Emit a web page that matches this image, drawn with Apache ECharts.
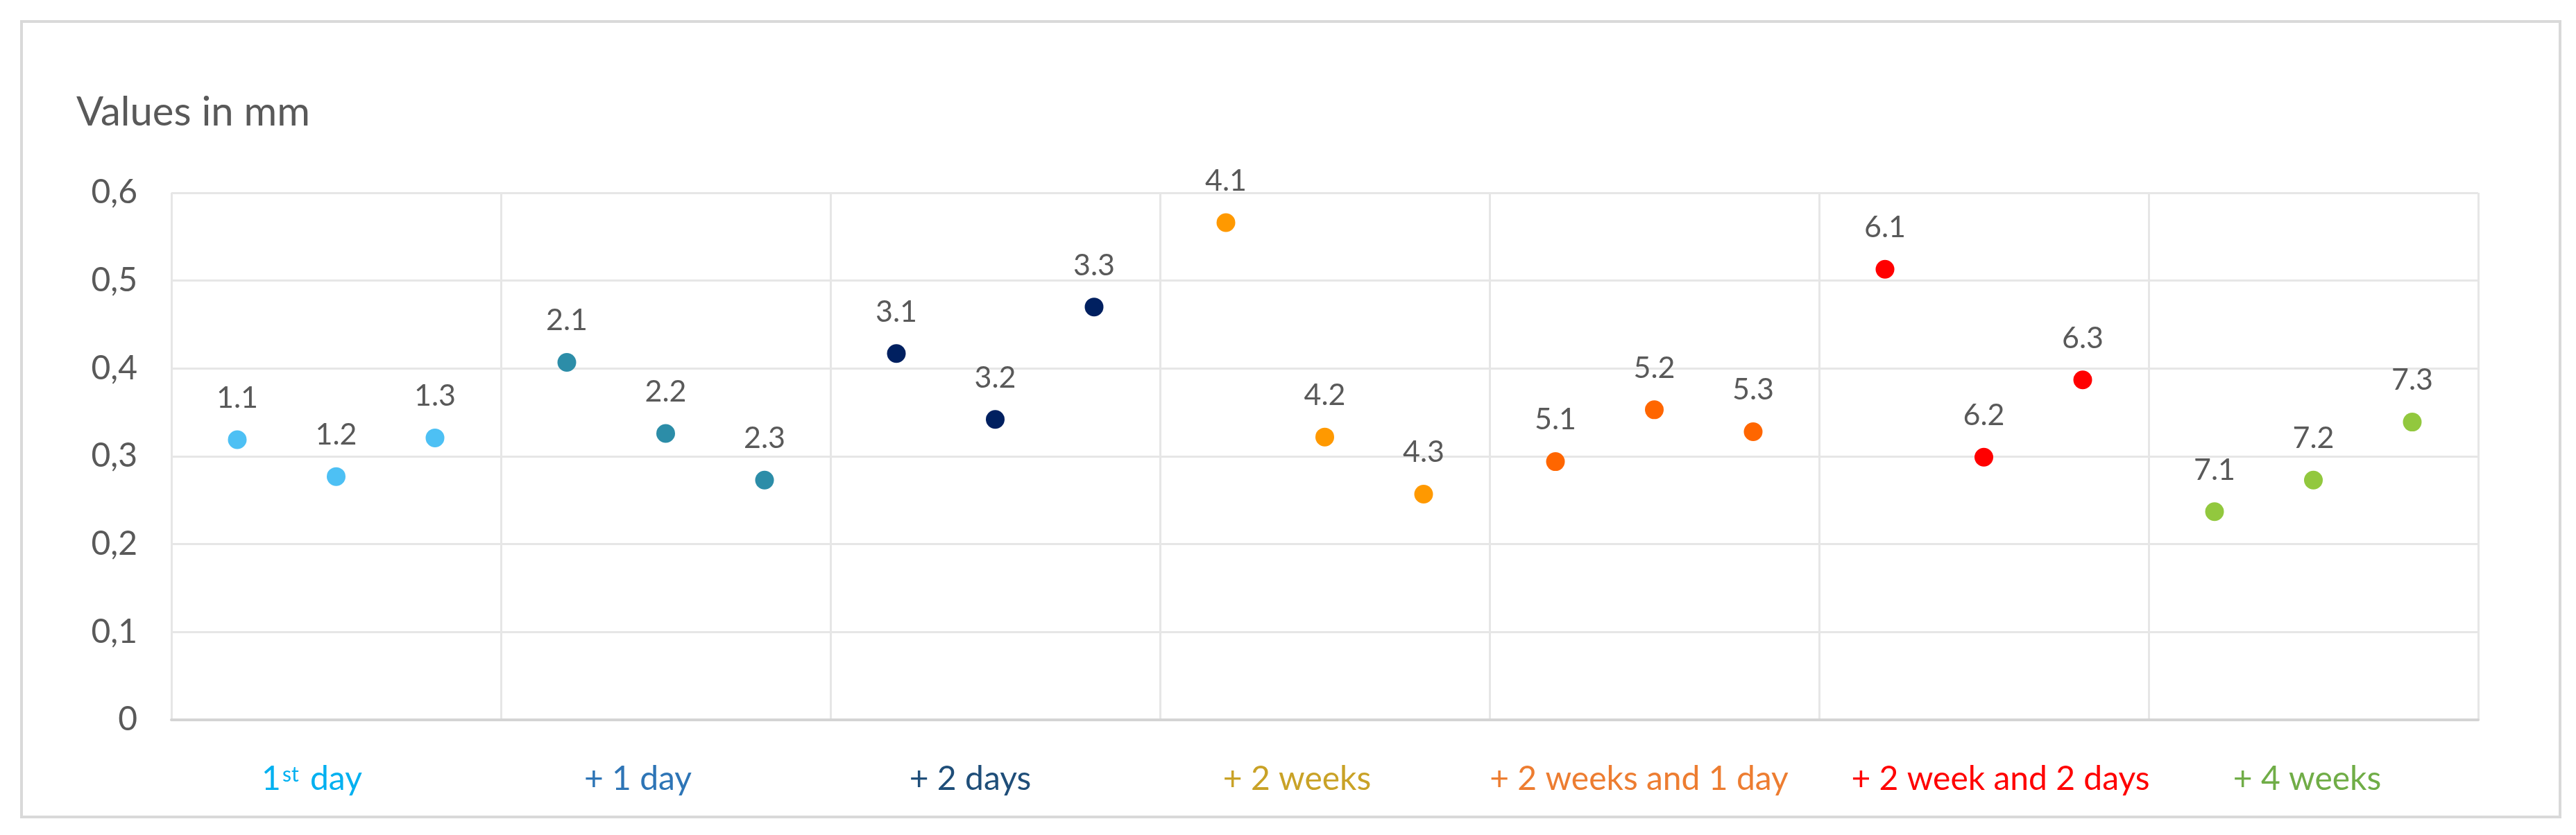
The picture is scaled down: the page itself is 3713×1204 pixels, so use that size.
<!DOCTYPE html>
<html>
<head>
<meta charset="utf-8">
<style>
  html, body { margin: 0; padding: 0; background: #ffffff; }
  #chart { width: 3713px; height: 1204px; }
</style>
<script src="https://cdn.jsdelivr.net/npm/echarts@6/dist/echarts.min.js"></script>
</head>
<body>
<div id="chart"></div>
<script>
// ---------------- data ----------------
const groups = ['1st day', '+ 1 day', '+ 2 days', '+ 2 weeks', '+ 2 weeks and 1 day', '+ 2 week and 2 days', '+ 4 weeks'];

const names1stDay       = ['1.1', '1.2', '1.3'];
const namesPlus1Day     = ['2.1', '2.2', '2.3'];
const namesPlus2Days    = ['3.1', '3.2', '3.3'];
const namesPlus2Weeks   = ['4.1', '4.2', '4.3'];
const namesPlus2Weeks1D = ['5.1', '5.2', '5.3'];
const namesPlus2Weeks2D = ['6.1', '6.2', '6.3'];
const namesPlus4Weeks   = ['7.1', '7.2', '7.3'];

const values1stDay       = [0.319, 0.277, 0.321];
const valuesPlus1Day     = [0.407, 0.326, 0.273];
const valuesPlus2Days    = [0.417, 0.342, 0.470];
const valuesPlus2Weeks   = [0.566, 0.322, 0.257];
const valuesPlus2Weeks1D = [0.294, 0.353, 0.328];
const valuesPlus2Weeks2D = [0.513, 0.299, 0.387];
const valuesPlus4Weeks   = [0.237, 0.273, 0.339];

const yTickLabels = ['0', '0,1', '0,2', '0,3', '0,4', '0,5', '0,6'];
const yAxisTitle = 'Values in mm';

const pointNames = [names1stDay, namesPlus1Day, namesPlus2Days, namesPlus2Weeks, namesPlus2Weeks1D, namesPlus2Weeks2D, namesPlus4Weeks];
const seriesValues = [values1stDay, valuesPlus1Day, valuesPlus2Days, valuesPlus2Weeks, valuesPlus2Weeks1D, valuesPlus2Weeks2D, valuesPlus4Weeks];

// ---------------- styles / layout ----------------
const FONT = 'Lato';
const dotColors   = ['#4dc0f4', '#2c8da8', '#002060', '#ff9900', '#ff6600', '#ff0000', '#92c83e'];
const labelColors = ['#00b0f0', '#2e75b6', '#1f4e79', '#c9a227', '#ed7d31', '#ff0000', '#70ad47'];
const slotOffsets = [0.2, 0.5, 0.8];          // position of the 3 points inside a category
const labelShift  = [-35, -40, -36, -40, -22, 24, -9]; // horizontal nudge of category labels (px)
const xFont = 48;

// rich styles for category labels
const rich = {};
groups.forEach((g, i) => {
  const s = labelShift[i];
  const padL = s > 0 ? 2 * s : 0;
  const padR = s < 0 ? -2 * s : 0;
  const base = { color: labelColors[i], fontFamily: FONT, fontSize: xFont, lineHeight: xFont };
  rich['a' + i] = Object.assign({}, base, { padding: [0, 0, 0, padL] });
  rich['b' + i] = Object.assign({}, base, { padding: [0, padR, 0, 0] });
  rich['s' + i] = Object.assign({}, base, { fontSize: 30, lineHeight: 30, verticalAlign: 'top', padding: [2, 4, 0, 2] });
});

function catLabel(value, index) {
  if (value.indexOf('1st') === 0) {
    return '{a' + index + '|1}{s' + index + '|st}{b' + index + '| day}';
  }
  return '{a' + index + '|}{b' + index + '|' + value + '}';
}

const series = seriesValues.map((vals, g) => ({
  type: 'scatter',
  name: groups[g],
  xAxisIndex: 1,
  yAxisIndex: 0,
  symbol: 'circle',
  symbolSize: 27,
  itemStyle: { color: dotColors[g], opacity: 1 },
  label: {
    show: true,
    position: 'top',
    distance: 25,
    formatter: '{b}',
    color: '#595959',
    fontFamily: FONT,
    fontSize: 43
  },
  emphasis: { disabled: true },
  data: vals.map((v, j) => ({ name: pointNames[g][j], value: [g + slotOffsets[j], v] }))
}));

const chart = echarts.init(document.getElementById('chart'), null, { renderer: 'canvas' });
chart.setOption({
  backgroundColor: '#ffffff',
  animation: false,
  title: {
    text: yAxisTitle,
    left: 105,
    top: 128,
    textStyle: { fontFamily: FONT, fontSize: 58, fontWeight: 'normal', color: '#595959' }
  },
  graphic: [{
    type: 'rect',
    shape: { x: 31, y: 31, width: 3659, height: 1147 },
    style: { fill: 'none', stroke: '#d9d9d9', lineWidth: 4 },
    silent: true
  }],
  grid: { left: 247, right: 141, top: 278, bottom: 166 },
  xAxis: [{
    type: 'category',
    data: groups,
    boundaryGap: true,
    position: 'bottom',
    axisLine: { show: true, lineStyle: { color: '#d4d4d4', width: 4 } },
    axisTick: { show: false },
    splitLine: { show: true, interval: 0, lineStyle: { color: '#e6e6e6', width: 3 } },
    axisLabel: { interval: 0, margin: 62, formatter: catLabel, rich: rich }
  }, {
    type: 'value',
    min: 0,
    max: groups.length,
    show: false
  }],
  yAxis: {
    type: 'value',
    min: 0,
    max: 0.6,
    interval: 0.1,
    axisLine: { show: false },
    axisTick: { show: false },
    splitLine: { show: true, lineStyle: { color: '#e6e6e6', width: 3 } },
    axisLabel: {
      margin: 49,
      color: '#595959',
      fontFamily: FONT,
      fontSize: 48,
      formatter: v => yTickLabels[Math.round(v * 10)]
    }
  },
  series: series
});
</script>
</body>
</html>
